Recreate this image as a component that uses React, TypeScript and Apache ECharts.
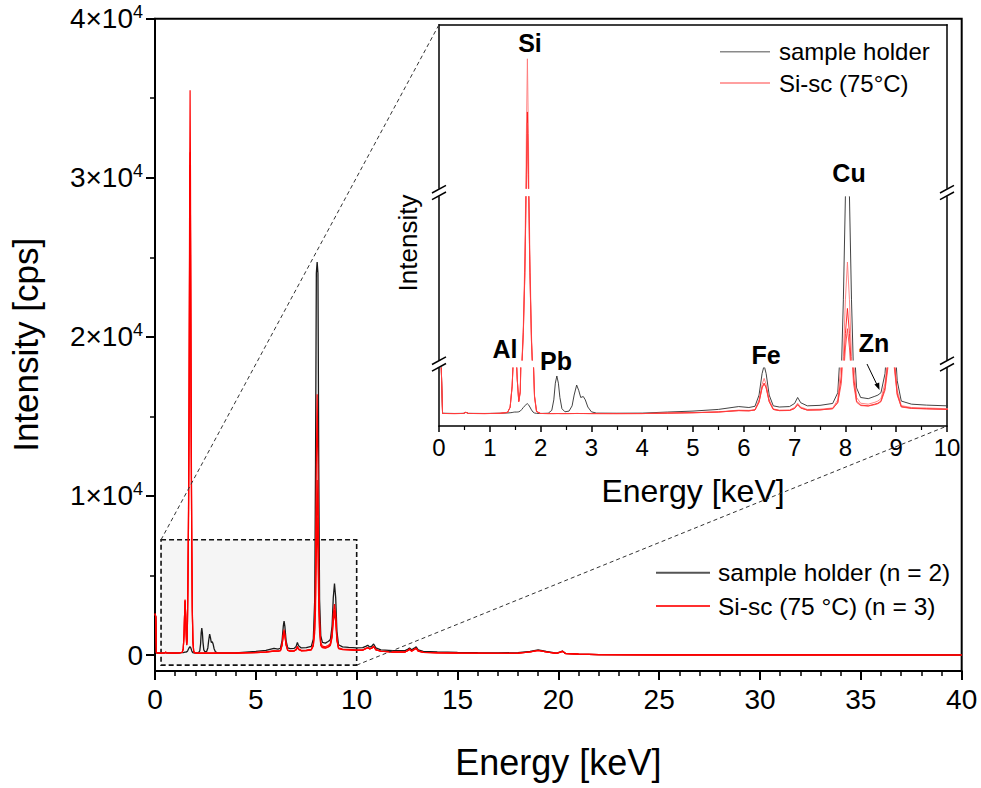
import React, { useEffect, useRef } from "react";
import * as echarts from "echarts";

// ---------- DATA ----------
const energy = [
  0.0, 0.04, 0.07, 0.3, 0.48, 0.53, 0.58, 0.9, 1.2, 1.35,
  1.4, 1.44, 1.46, 1.49, 1.52, 1.54, 1.57, 1.6, 1.63, 1.66,
  1.69, 1.72, 1.74, 1.76, 1.79, 1.82, 1.85, 1.88, 1.92, 2.0,
  2.15, 2.22, 2.26, 2.29, 2.32, 2.35, 2.38, 2.42, 2.48, 2.56,
  2.62, 2.66, 2.71, 2.75, 2.79, 2.84, 2.88, 2.93, 3.0, 3.1,
  3.5, 4.0, 4.5, 5.0, 5.5, 5.9, 6.1, 6.22, 6.3, 6.36,
  6.4, 6.44, 6.5, 6.58, 6.7, 6.9, 7.0, 7.06, 7.12, 7.25,
  7.5, 7.75, 7.85, 7.92, 7.96, 8.0, 8.04, 8.08, 8.12, 8.16,
  8.22, 8.3, 8.45, 8.58, 8.64, 8.7, 8.78, 8.84, 8.9, 8.96,
  9.02, 9.1, 9.3, 9.6, 10.0, 10.3, 10.45, 10.55, 10.65, 10.75,
  10.84, 10.95, 11.2, 11.8, 12.4, 12.55, 12.62, 12.72, 12.88, 12.95,
  13.05, 13.3, 14.0, 15.0, 16.0, 17.0, 18.0, 18.6, 19.0, 19.4,
  19.9, 20.1, 20.2, 20.35, 21.0, 22.0, 25.0, 30.0, 35.0, 40.0,
];

// sample holder (mean of n = 2), cps
const holder = [
  2600, 2400, 140, 130, 135, 175, 135, 130, 140, 150,
  160, 170, 180, 190, 190, 190, 200, 230, 300, 380,
  450, 520, 540, 500, 400, 280, 190, 150, 135, 130,
  140, 260, 700, 1400, 1700, 1400, 800, 330, 200, 230,
  450, 900, 1320, 1100, 800, 840, 700, 400, 200, 145,
  140, 145, 190, 230, 300, 420, 380, 430, 900, 1800,
  2140, 1800, 900, 450, 400, 420, 550, 800, 580, 450,
  470, 550, 1000, 3500, 12000, 24000, 24700, 24000, 12000, 3500,
  1200, 800, 750, 850, 900, 1000, 1800, 3600, 4500, 3600,
  1500, 650, 520, 480, 450, 470, 550, 620, 500, 560,
  700, 450, 330, 280, 280, 380, 450, 330, 450, 520,
  330, 230, 200, 170, 150, 140, 150, 230, 330, 230,
  120, 200, 250, 110, 60, 30, 15, 10, 8, 5,
];

// Si-sc (75 °C), replicate 1, cps
const siscA = [
  2600, 2400, 130, 125, 130, 185, 130, 125, 135, 180,
  400, 1300, 2300, 3500, 2600, 1600, 650, 1100, 4500, 9000,
  17000, 30000, 35500, 30000, 17000, 8000, 3000, 900, 220, 130,
  125, 125, 125, 126, 127, 127, 126, 125, 125, 126,
  127, 128, 130, 129, 128, 128, 127, 126, 125, 125,
  125, 128, 150, 170, 200, 270, 260, 290, 700, 1350,
  1600, 1350, 700, 320, 270, 280, 380, 560, 400, 300,
  310, 360, 700, 2400, 5400, 12000, 16400, 12000, 5400, 2400,
  800, 560, 520, 600, 650, 750, 1400, 2600, 3200, 2600,
  1100, 460, 380, 360, 330, 330, 420, 480, 400, 450,
  560, 350, 250, 200, 200, 300, 380, 260, 380, 440,
  260, 180, 150, 130, 120, 110, 120, 200, 300, 200,
  110, 190, 240, 100, 55, 30, 15, 10, 8, 5,
];

// Si-sc (75 °C), replicate 2, cps
const siscB = [
  2600, 2400, 130, 125, 130, 180, 130, 125, 135, 175,
  380, 1250, 2250, 3400, 2550, 1550, 620, 1050, 4200, 8200,
  15200, 27000, 31600, 27000, 15200, 7300, 2800, 850, 210, 130,
  125, 125, 125, 126, 127, 127, 126, 125, 125, 126,
  127, 128, 130, 129, 128, 128, 127, 126, 125, 125,
  124, 126, 145, 160, 190, 250, 240, 275, 600, 1200,
  1400, 1200, 620, 300, 250, 255, 340, 500, 360, 270,
  280, 330, 600, 1700, 3700, 8100, 11000, 8100, 3700, 1700,
  650, 480, 450, 520, 560, 650, 1200, 2300, 2850, 2300,
  950, 420, 350, 330, 300, 310, 400, 460, 380, 430,
  540, 330, 240, 190, 190, 290, 370, 250, 370, 420,
  250, 170, 145, 125, 115, 105, 115, 195, 290, 195,
  105, 185, 235, 95, 55, 30, 15, 10, 8, 5,
];

// Si-sc (75 °C), replicate 3, cps
const siscC = [
  2600, 2400, 130, 125, 130, 180, 130, 125, 135, 178,
  390, 1280, 2280, 3450, 2580, 1580, 640, 1000, 4100, 8000,
  14800, 26000, 30800, 26000, 14800, 7100, 2700, 820, 210, 130,
  125, 125, 125, 126, 127, 127, 126, 125, 125, 126,
  127, 128, 130, 129, 128, 128, 127, 126, 125, 125,
  124, 126, 145, 160, 190, 250, 240, 275, 620, 1220,
  1380, 1220, 640, 300, 250, 255, 340, 500, 360, 270,
  280, 330, 580, 1400, 2900, 6400, 8640, 6400, 2900, 1400,
  600, 460, 440, 500, 540, 620, 1100, 2100, 2600, 2100,
  900, 400, 340, 320, 300, 310, 400, 460, 380, 430,
  540, 330, 240, 190, 190, 290, 370, 250, 370, 420,
  250, 170, 145, 125, 115, 105, 115, 195, 290, 195,
  105, 185, 235, 95, 55, 30, 15, 10, 8, 5,
];

const yTickValues = [0, 10000, 20000, 30000, 40000];
const yTickMantissa = ["0", "1", "2", "3", "4"];
const yMinorValues = [5000, 15000, 25000, 35000];

// inset broken-axis value ranges (bottom, middle, top segment)
const insetLowRange = [-395, 2035];
const insetMidRange = [5000, 24000];
const insetTopRange = [26000, 38000];

// zoom window drawn on the main chart [keV, cps]
const zoomBox = { x0: 0.3, x1: 10, y0: -630, y1: 7250 };

const peakLabels = [
  { text: "Si", x: 530, y: 43 },
  { text: "Al", x: 505, y: 349 },
  { text: "Pb", x: 556, y: 361 },
  { text: "Fe", x: 766, y: 355 },
  { text: "Cu", x: 849, y: 173 },
  { text: "Zn", x: 874, y: 343 },
];

// ---------- LAYOUT ----------
const FONT = '"Liberation Sans", Arial, Helvetica, sans-serif';
const MAIN = { left: 153, top: 18.7, width: 808.7, height: 652.3 };
const IN_L = 439;
const IN_W = 508;
const SEG_TOP = { top: 24.7, height: 163.6 };
const SEG_MID = { top: 196.7, height: 163.3 };
const SEG_LOW = { top: 368, height: 58 };
const BREAKS = [192.5, 364];

const pairs = (arr: number[]) => energy.map((e, i) => [e, arr[i]]);

export default function App() {
  const ref = useRef<HTMLDivElement>(null);

  useEffect(() => {
    if (!ref.current) return;
    const chart = echarts.init(ref.current, null, { renderer: "svg" });

    const lineBase = {
      type: "line",
      showSymbol: false,
      symbol: "none",
      silent: true,
      clip: true,
      animation: false,
    };

    const mainSeries: any[] = [
      {
        ...lineBase,
        name: "zoom",
        data: [],
        xAxisIndex: 0,
        yAxisIndex: 0,
        z: 1,
        markArea: {
          silent: true,
          itemStyle: {
            color: "#f5f5f5",
            borderColor: "#111",
            borderWidth: 1.6,
            borderType: [5, 3],
          },
          label: { show: false },
          data: [[{ coord: [zoomBox.x0, zoomBox.y1] }, { coord: [zoomBox.x1, zoomBox.y0] }]],
        },
      },
      {
        ...lineBase,
        name: "sample holder (n = 2)",
        data: pairs(holder),
        xAxisIndex: 0,
        yAxisIndex: 0,
        z: 3,
        lineStyle: { color: "#1a1a1a", width: 1.3 },
        itemStyle: { color: "#555" },
      },
      ...[siscC, siscB, siscA].map((arr) => ({
        ...lineBase,
        name: "Si-sc (75 °C) (n = 3)",
        data: pairs(arr),
        xAxisIndex: 0,
        yAxisIndex: 0,
        z: 4,
        lineStyle: { color: "#ff0000", width: 1.2 },
        itemStyle: { color: "#ff3030" },
      })),
    ];

    const insetSegments = [
      { x: 1, y: 2 },
      { x: 2, y: 4 },
      { x: 3, y: 6 },
    ];
    const redShades = ["#ff7878", "#ff1a1a", "#ff4040"];
    const insetSeries: any[] = [];
    insetSegments.forEach((s) => {
      insetSeries.push({
        ...lineBase,
        name: "sample holder",
        data: pairs(holder),
        xAxisIndex: s.x,
        yAxisIndex: s.y,
        z: 3,
        lineStyle: { color: "#2e2e2e", width: 0.9 },
        itemStyle: { color: "#8a8a8a" },
      });
      [siscA, siscB, siscC].forEach((arr, k) => {
        insetSeries.push({
          ...lineBase,
          name: "Si-sc (75°C)",
          data: pairs(arr),
          xAxisIndex: s.x,
          yAxisIndex: s.y,
          z: 4,
          lineStyle: { color: redShades[k], width: 0.9 },
          itemStyle: { color: "#ff8080" },
        });
      });
    });

    const blackLine = { lineStyle: { color: "#000", width: 1.5 } };

    const insetY = (range: number[], gridIndex: number, position: string) => ({
      type: "value",
      gridIndex,
      position,
      min: range[0],
      max: range[1],
      axisLine: { show: true, onZero: false, ...blackLine },
      axisTick: { show: false },
      axisLabel: { show: false },
      splitLine: { show: false },
    });

    const option: any = {
      animation: false,
      textStyle: { fontFamily: FONT, color: "#000" },
      grid: [
        {
          left: MAIN.left,
          top: MAIN.top,
          width: MAIN.width,
          height: MAIN.height,
          show: true,
          borderColor: "#000",
          borderWidth: 2,
          backgroundColor: "transparent",
        },
        { left: IN_L, width: IN_W, top: SEG_LOW.top, height: SEG_LOW.height },
        { left: IN_L, width: IN_W, top: SEG_MID.top, height: SEG_MID.height },
        { left: IN_L, width: IN_W, top: SEG_TOP.top, height: SEG_TOP.height },
      ],
      xAxis: [
        {
          type: "value",
          gridIndex: 0,
          min: 0,
          max: 40,
          interval: 5,
          axisLine: { show: true, onZero: false, lineStyle: { color: "#000", width: 2 } },
          axisTick: { show: true, length: 9, lineStyle: { color: "#000", width: 2 } },
          minorTick: { show: true, splitNumber: 5, length: 5, lineStyle: { color: "#000", width: 1.5 } },
          axisLabel: { fontSize: 28, margin: 14, color: "#000", fontFamily: FONT },
          splitLine: { show: false },
          minorSplitLine: { show: false },
          name: "Energy [keV]",
          nameLocation: "middle",
          nameGap: 73,
          nameTextStyle: { fontSize: 36, color: "#000", fontFamily: FONT },
        },
        {
          type: "value",
          gridIndex: 1,
          min: 0,
          max: 10,
          interval: 1,
          axisLine: { show: true, onZero: false, ...blackLine },
          axisTick: { show: true, length: 6, lineStyle: { color: "#000", width: 1.5 } },
          minorTick: { show: true, splitNumber: 2, length: 4, lineStyle: { color: "#000", width: 1.2 } },
          axisLabel: { fontSize: 24, margin: 9, color: "#000", fontFamily: FONT },
          splitLine: { show: false },
          name: "Energy [keV]",
          nameLocation: "middle",
          nameGap: 49,
          nameTextStyle: { fontSize: 32, color: "#000", fontFamily: FONT },
        },
        { type: "value", gridIndex: 2, min: 0, max: 10, show: false },
        {
          type: "value",
          gridIndex: 3,
          min: 0,
          max: 10,
          position: "top",
          axisLine: { show: true, onZero: false, ...blackLine },
          axisTick: { show: false },
          axisLabel: { show: false },
          splitLine: { show: false },
        },
      ],
      yAxis: [
        {
          type: "value",
          gridIndex: 0,
          position: "left",
          min: -1000,
          max: 40000,
          axisLine: { show: true, onZero: false, lineStyle: { color: "#000", width: 2 } },
          axisTick: { show: true, customValues: yTickValues, length: 9, lineStyle: { color: "#000", width: 2 } },
          axisLabel: {
            customValues: yTickValues,
            margin: 12,
            formatter: (v: number) => {
              const i = yTickValues.indexOf(v);
              if (i === 0) return "{a|0}";
              return `{a|${yTickMantissa[i]}×10}{s|4}`;
            },
            rich: {
              a: { fontSize: 28, color: "#000", fontFamily: FONT, lineHeight: 32 },
              s: { fontSize: 18, color: "#000", fontFamily: FONT, lineHeight: 18, verticalAlign: "top" },
            },
          },
          splitLine: { show: false },
          name: "Intensity [cps]",
          nameLocation: "middle",
          nameGap: 112,
          nameTextStyle: { fontSize: 35, color: "#000", fontFamily: FONT },
        },
        {
          type: "value",
          gridIndex: 0,
          position: "left",
          min: -1000,
          max: 40000,
          axisLine: { show: false },
          axisTick: { show: true, customValues: yMinorValues, length: 5, lineStyle: { color: "#000", width: 1.5 } },
          axisLabel: { show: false },
          splitLine: { show: false },
        },
        insetY(insetLowRange, 1, "left"),
        insetY(insetLowRange, 1, "right"),
        insetY(insetMidRange, 2, "left"),
        insetY(insetMidRange, 2, "right"),
        insetY(insetTopRange, 3, "left"),
        insetY(insetTopRange, 3, "right"),
      ],
      legend: [
        {
          data: [
            { name: "sample holder (n = 2)", itemStyle: { color: "#555" } },
            { name: "Si-sc (75 °C) (n = 3)", itemStyle: { color: "#ff3030" } },
          ],
          orient: "vertical",
          left: 656,
          top: 558.7,
          padding: 0,
          icon: "rect",
          itemWidth: 54,
          itemHeight: 2,
          itemGap: 5.3,
          selectedMode: false,
          textStyle: { fontSize: 24.5, lineHeight: 28, color: "#000", fontFamily: FONT, padding: [0, 0, 0, 3] },
        },
        {
          data: [
            { name: "sample holder", itemStyle: { color: "#8a8a8a" } },
            { name: "Si-sc (75°C)", itemStyle: { color: "#ff8080" } },
          ],
          orient: "vertical",
          left: 720,
          top: 38.2,
          padding: 0,
          icon: "rect",
          itemWidth: 50,
          itemHeight: 1.5,
          itemGap: 4.3,
          selectedMode: false,
          textStyle: { fontSize: 24, lineHeight: 27, color: "#000", fontFamily: FONT, padding: [0, 0, 0, 4] },
        },
      ],
      series: [...mainSeries, ...insetSeries],
    };

    chart.setOption(option);

    // connectors from the zoom window to the inset corners
    const p1 = chart.convertToPixel({ gridIndex: 0 }, [zoomBox.x0, zoomBox.y1]) as number[];
    const p2 = chart.convertToPixel({ gridIndex: 0 }, [zoomBox.x1, zoomBox.y0]) as number[];
    const q1 = chart.convertToPixel({ gridIndex: 3 }, [0, insetTopRange[1]]) as number[];
    const q2 = chart.convertToPixel({ gridIndex: 1 }, [10, insetLowRange[0]]) as number[];

    const dashed = { stroke: "#333", lineWidth: 1, lineDash: [4, 3] };
    const graphics: any[] = [
      { type: "line", silent: true, z: 50, shape: { x1: p1[0], y1: p1[1], x2: q1[0], y2: q1[1] }, style: dashed },
      { type: "line", silent: true, z: 50, shape: { x1: p2[0], y1: p2[1], x2: q2[0], y2: q2[1] }, style: dashed },
    ];

    // axis-break marks
    [IN_L, IN_L + IN_W].forEach((bx) => {
      BREAKS.forEach((by) => {
        [-3.3, 3.3].forEach((off) => {
          graphics.push({
            type: "line",
            silent: true,
            z: 60,
            shape: { x1: bx - 7, y1: by + off + 3.8, x2: bx + 7, y2: by + off - 3.8 },
            style: { stroke: "#000", lineWidth: 1.5 },
          });
        });
      });
    });

    peakLabels.forEach((l) => {
      graphics.push({
        type: "text",
        silent: true,
        z: 60,
        x: l.x,
        y: l.y,
        style: {
          text: l.text,
          fill: "#000",
          fontSize: 25,
          fontWeight: "bold",
          fontFamily: FONT,
          align: "center",
          verticalAlign: "middle",
        },
      });
    });

    graphics.push({
      type: "text",
      silent: true,
      z: 60,
      x: 408,
      y: 243,
      rotation: Math.PI / 2,
      style: {
        text: "Intensity",
        fill: "#000",
        fontSize: 26,
        fontFamily: FONT,
        align: "center",
        verticalAlign: "middle",
      },
    });

    // Zn arrow
    graphics.push({
      type: "line",
      silent: true,
      z: 60,
      shape: { x1: 867, y1: 364, x2: 877.6, y2: 386 },
      style: { stroke: "#000", lineWidth: 1 },
    });
    graphics.push({
      type: "polygon",
      silent: true,
      z: 60,
      shape: { points: [[879.5, 390], [879.2, 382.4], [874.4, 384.6]] },
      style: { fill: "#000" },
    });

    chart.setOption({ graphic: graphics });

    return () => chart.dispose();
  }, []);

  return (
    <div
      ref={ref}
      style={{ position: "absolute", left: 0, top: 0, width: 981, height: 788, background: "#fff" }}
    />
  );
}
